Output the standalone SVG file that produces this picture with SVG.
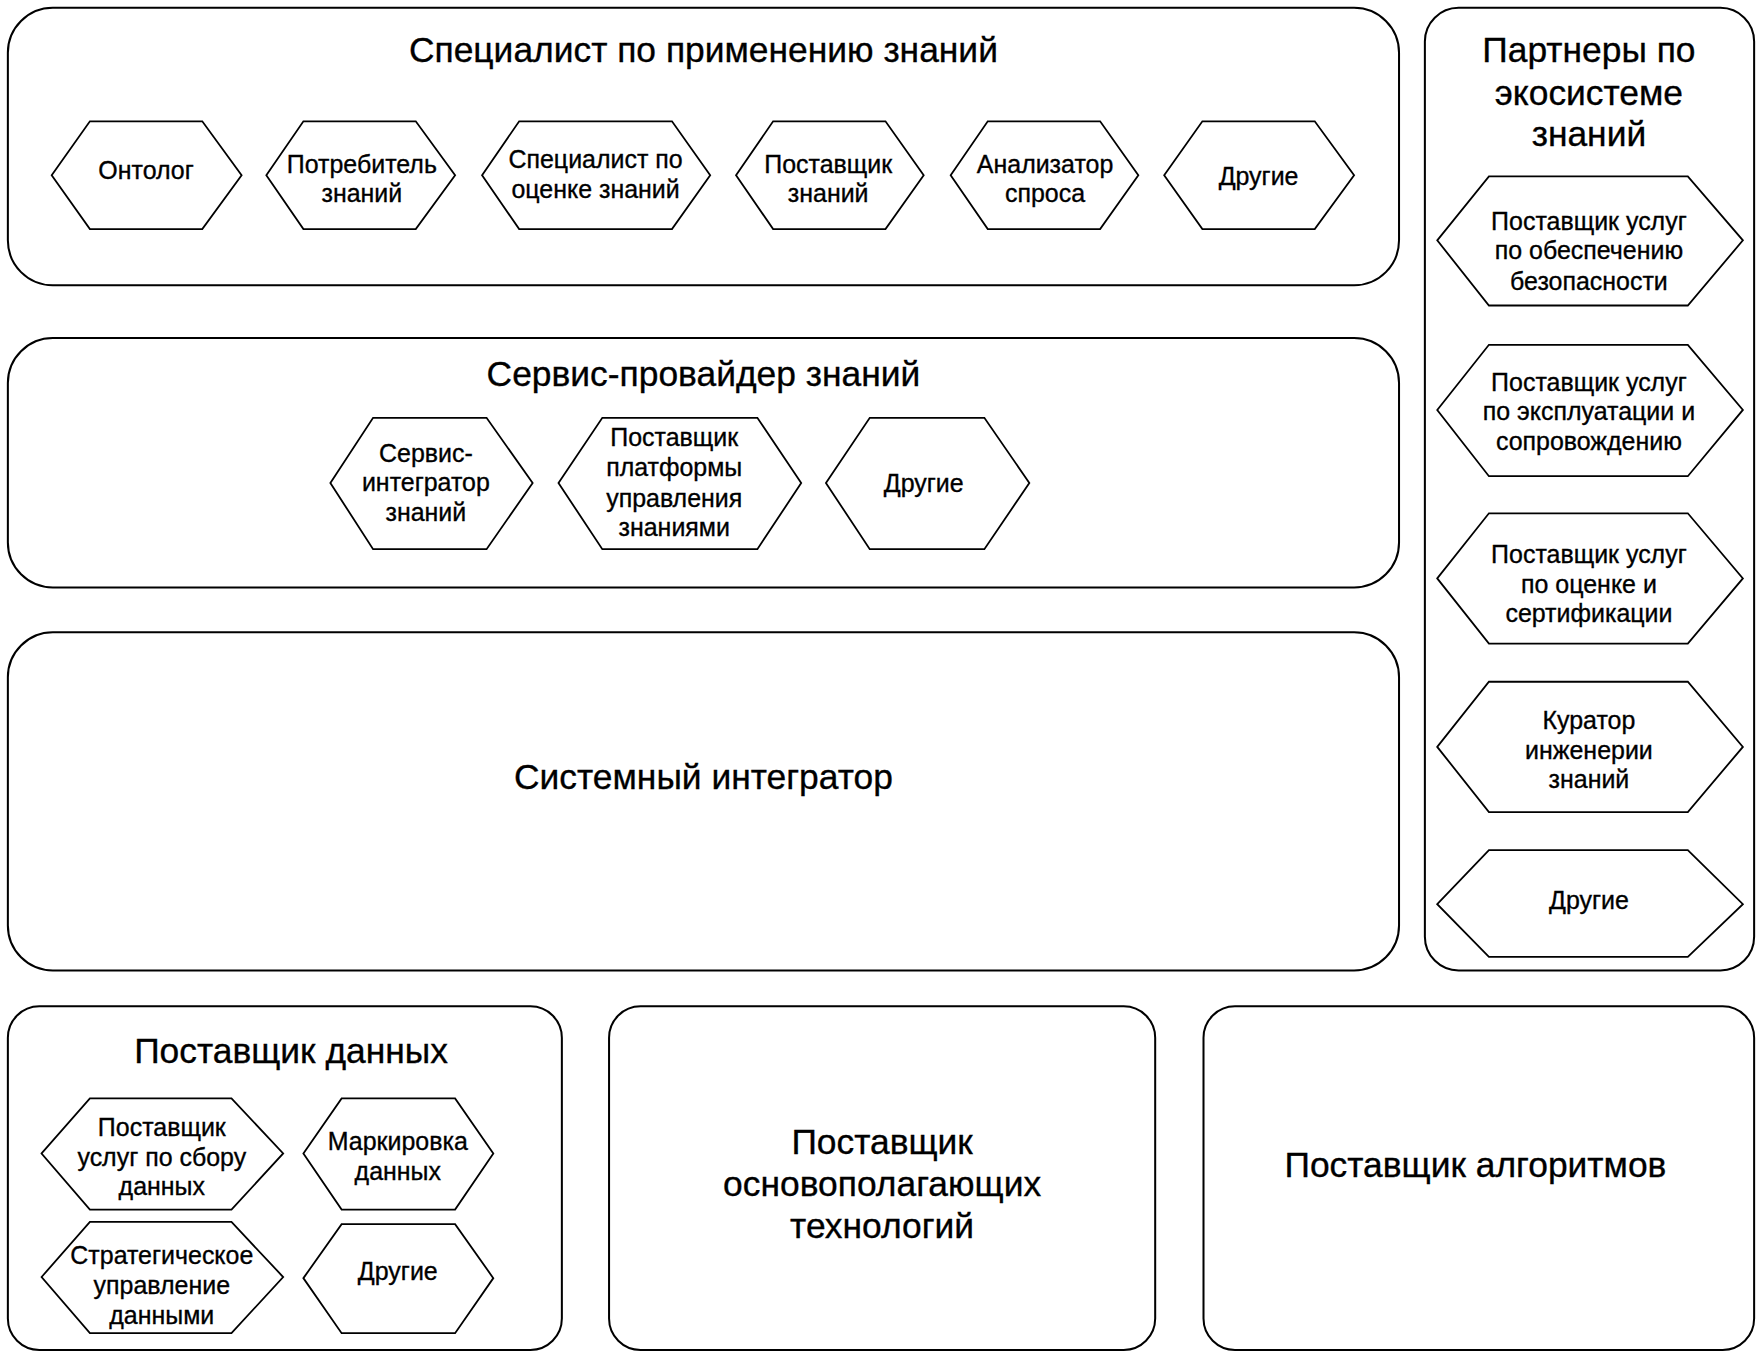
<svg xmlns="http://www.w3.org/2000/svg" width="1762" height="1359" viewBox="0 0 1762 1359">
<style>
.box{fill:#fff;stroke:#000;stroke-width:1.8}
.hex{fill:#fff;stroke:#000;stroke-width:1.6}
text{font-family:"Liberation Sans",Arial,sans-serif;fill:#000;text-anchor:middle;dominant-baseline:central;stroke:#000;stroke-width:0.3}
.t{font-size:31.5px}
.h{font-size:22.2px}
</style>
<rect width="1762" height="1359" fill="#fff"/>
<g transform="scale(1.12372,1.12314)">
<g id="specialist">
<rect class="box" x="7" y="7" width="1238" height="247" rx="40"/>
<text class="t" x="626" y="44">Специалист по применению знаний</text>
</g>
<g id="ontolog"><polygon class="hex" points="46,156 80,108 180,108 215,156 180,204 80,204"/><text class="h" x="130" y="151">Онтолог</text></g>
<g id="consumer"><polygon class="hex" points="237,156 270,108 370,108 405,156 370,204 270,204"/><text class="h" x="322" y="146">Потребитель</text><text class="h" x="322" y="172">знаний</text></g>
<g id="evaluator"><polygon class="hex" points="429,156 462,108 598,108 632,156 598,204 462,204"/><text class="h" x="530" y="142">Специалист по</text><text class="h" x="530" y="168">оценке знаний</text></g>
<g id="kprovider"><polygon class="hex" points="655,156 688,108 788,108 822,156 788,204 688,204"/><text class="h" x="737" y="146">Поставщик</text><text class="h" x="737" y="172">знаний</text></g>
<g id="analyzer"><polygon class="hex" points="846,156 879,108 979,108 1013,156 979,204 879,204"/><text class="h" x="930" y="146">Анализатор</text><text class="h" x="930" y="172">спроса</text></g>
<g id="others1"><polygon class="hex" points="1036,156 1070,108 1170,108 1205,156 1170,204 1070,204"/><text class="h" x="1120" y="157">Другие</text></g>

<g id="service-provider">
<rect class="box" x="7" y="301" width="1238" height="222" rx="40"/>
<text class="t" x="626" y="333">Сервис-провайдер знаний</text>
</g>
<g id="integrator-k"><polygon class="hex" points="294,430 332,372 433,372 474,430 433,489 332,489"/><text class="h" x="379" y="403">Сервис-</text><text class="h" x="379" y="429">интегратор</text><text class="h" x="379" y="456">знаний</text></g>
<g id="platform"><polygon class="hex" points="497,430 536,372 674,372 713,430 674,489 536,489"/><text class="h" x="600" y="389">Поставщик</text><text class="h" x="600" y="416">платформы</text><text class="h" x="600" y="443">управления</text><text class="h" x="600" y="469">знаниями</text></g>
<g id="others2"><polygon class="hex" points="735,430 774,372 876,372 916,430 876,489 774,489"/><text class="h" x="822" y="430">Другие</text></g>

<g id="system-integrator">
<rect class="box" x="7" y="563" width="1238" height="301" rx="40"/>
<text class="t" x="626" y="691">Системный интегратор</text>
</g>

<g id="partners">
<rect class="box" x="1268" y="7" width="293" height="857" rx="30"/>
<text class="t" x="1414" y="44">Партнеры по</text>
<text class="t" x="1414" y="82">экосистеме</text>
<text class="t" x="1414" y="119">знаний</text>
</g>
<g id="security"><polygon class="hex" points="1279,214 1325,157 1502,157 1551,214 1502,272 1325,272"/><text class="h" x="1414" y="197">Поставщик услуг</text><text class="h" x="1414" y="223">по обеспечению</text><text class="h" x="1414" y="250">безопасности</text></g>
<g id="operation"><polygon class="hex" points="1279,365 1325,307 1502,307 1551,365 1502,424 1325,424"/><text class="h" x="1414" y="340">Поставщик услуг</text><text class="h" x="1414" y="366">по эксплуатации и</text><text class="h" x="1414" y="393">сопровождению</text></g>
<g id="certification"><polygon class="hex" points="1279,515 1325,457 1502,457 1551,515 1502,573 1325,573"/><text class="h" x="1414" y="493">Поставщик услуг</text><text class="h" x="1414" y="520">по оценке и</text><text class="h" x="1414" y="546">сертификации</text></g>
<g id="curator"><polygon class="hex" points="1279,665 1325,607 1502,607 1551,665 1502,723 1325,723"/><text class="h" x="1414" y="641">Куратор</text><text class="h" x="1414" y="668">инженерии</text><text class="h" x="1414" y="694">знаний</text></g>
<g id="others3"><polygon class="hex" points="1279,805 1325,757 1502,757 1551,805 1502,852 1325,852"/><text class="h" x="1414" y="801">Другие</text></g>

<g id="data-provider">
<rect class="box" x="7" y="896" width="493" height="306" rx="28"/>
<text class="t" x="259" y="935">Поставщик данных</text>
</g>
<g id="collection"><polygon class="hex" points="37,1027 80,978 206,978 252,1027 206,1077 80,1077"/><text class="h" x="144" y="1003">Поставщик</text><text class="h" x="144" y="1030">услуг по сбору</text><text class="h" x="144" y="1056">данных</text></g>
<g id="labeling"><polygon class="hex" points="270,1027 304,978 405,978 439,1027 405,1077 304,1077"/><text class="h" x="354" y="1016">Маркировка</text><text class="h" x="354" y="1043">данных</text></g>
<g id="strategic"><polygon class="hex" points="37,1137 80,1088 206,1088 252,1137 206,1187 80,1187"/><text class="h" x="144" y="1117">Стратегическое</text><text class="h" x="144" y="1144">управление</text><text class="h" x="144" y="1171">данными</text></g>
<g id="others4"><polygon class="hex" points="270,1138 304,1090 405,1090 439,1138 405,1187 304,1187"/><text class="h" x="354" y="1132">Другие</text></g>

<g id="tech-provider">
<rect class="box" x="542" y="896" width="486" height="306" rx="28"/>
<text class="t" x="785" y="1016">Поставщик</text>
<text class="t" x="785" y="1054">основополагающих</text>
<text class="t" x="785" y="1091">технологий</text>
</g>
<g id="algo-provider">
<rect class="box" x="1071" y="896" width="490" height="306" rx="28"/>
<text class="t" x="1313" y="1037">Поставщик алгоритмов</text>
</g>
<g id="connectors"></g>
</g>
</svg>
